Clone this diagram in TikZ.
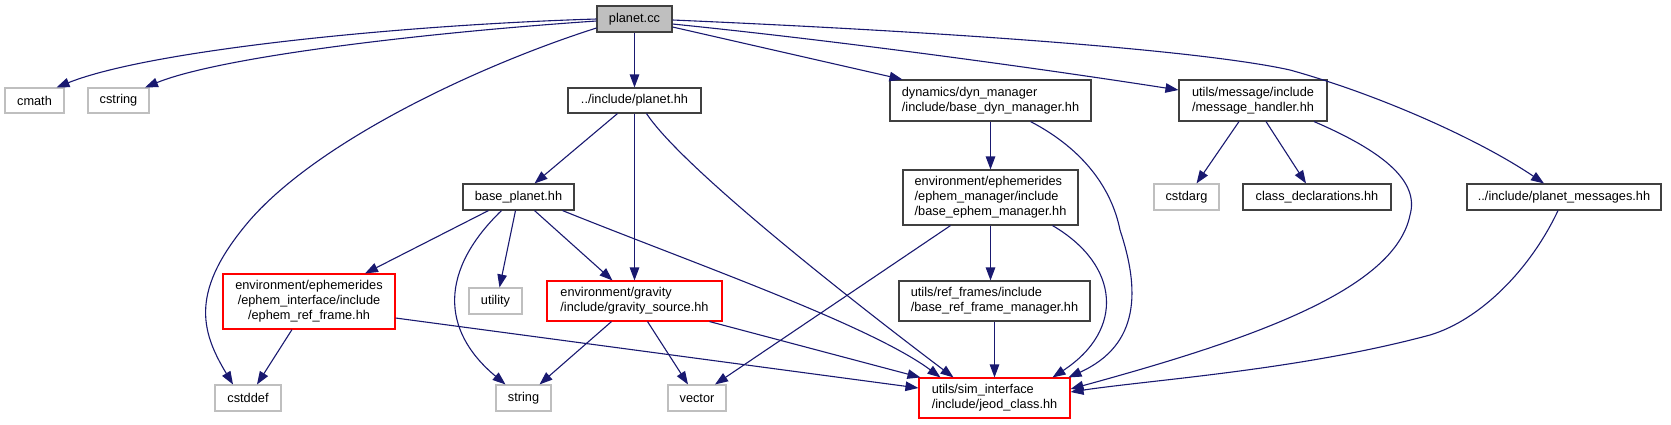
\documentclass[tikz,border=0pt]{standalone}
\usepackage{fontspec}
\setmainfont{Liberation Sans}
\usetikzlibrary{arrows.meta,calc}
\definecolor{edgeblue}{HTML}{191970}
\definecolor{greyext}{HTML}{BFBFBF}
\definecolor{greydark}{HTML}{404040}
\definecolor{rootfill}{HTML}{BFBFBF}
\begin{document}
\begin{tikzpicture}[x=1bp,y=-1bp,
  box/.style={draw=greydark, line width=1.1bp, fill=white, inner sep=0pt, text=black,
    font=\fontsize{12.8}{15}\selectfont},
  extbox/.style={box, draw=greyext},
  truncbox/.style={box, draw=red},
  rootbox/.style={box, fill=rootfill},
  dep/.style={draw=edgeblue, line width=1.1bp, -{Triangle[length=13bp,width=9.5bp]}}
]
\useasboundingbox (0,0) rectangle (1671,424);

% row 1
\node[rootbox, minimum width=75bp, minimum height=26bp] (pcc) at (634.5,19) {planet.cc};
% row 2
\node[extbox, minimum width=59bp, minimum height=25bp] (cmath) at (34.5,100.5) {cmath};
\node[extbox, minimum width=61bp, minimum height=25bp] (cstring) at (118.5,100.5) {cstring};
\node[box, minimum width=133bp, minimum height=25bp] (phh) at (634.5,100.5) {../include/planet.hh};
\node[box, minimum width=201bp, minimum height=41bp, align=left] (dyn) at (990.5,100.5) {dynamics/dyn\_manager\\/include/base\_dyn\_manager.hh};
\node[box, minimum width=148bp, minimum height=41bp, align=left] (msg) at (1253,100.5) {utils/message/include\\/message\_handler.hh};
% row 3
\node[box, minimum width=111bp, minimum height=26bp] (bp) at (518.5,197) {base\_planet.hh};
\node[box, minimum width=175bp, minimum height=55bp, align=left] (bem) at (990.5,197.5) {environment/ephemerides\\/ephem\_manager/include\\/base\_ephem\_manager.hh};
\node[extbox, minimum width=65bp, minimum height=26bp] (cstdarg) at (1186.5,197) {cstdarg};
\node[box, minimum width=148bp, minimum height=26bp] (cd) at (1317,197) {class\_declarations.hh};
\node[box, minimum width=194bp, minimum height=26bp] (pm) at (1564,197) {../include/planet\_messages.hh};
% row 4
\node[truncbox, minimum width=172bp, minimum height=55bp, align=center] (erf) at (309,301.5) {environment/ephemerides\\/ephem\_interface/include\\/ephem\_ref\_frame.hh};
\node[extbox, minimum width=53bp, minimum height=26bp] (utility) at (495.5,301) {utility};
\node[truncbox, minimum width=175bp, minimum height=40bp, align=left] (grav) at (634.5,301) {environment/gravity\\/include/gravity\_source.hh};
\node[box, minimum width=191bp, minimum height=40bp, align=left] (rfm) at (994.5,301) {utils/ref\_frames/include\\/base\_ref\_frame\_manager.hh};
% row 5
\node[extbox, minimum width=66bp, minimum height=26bp] (cstddef) at (248,398) {cstddef};
\node[extbox, minimum width=55bp, minimum height=26bp] (string) at (523.5,398) {string};
\node[extbox, minimum width=58bp, minimum height=26bp] (vector) at (697,398) {vector};
\node[truncbox, minimum width=151bp, minimum height=40bp, align=left] (jeod) at (994.5,398) {utils/sim\_interface\\/include/jeod\_class.hh};

% edges from planet.cc
\draw[dep] (pcc.west) .. controls (400,25) and (150,50) .. ($(cmath.north)+(22,0)$);
\draw[dep] ($(pcc.west)+(0,2)$) .. controls (420,33) and (220,57) .. ($(cstring.north)+(26.5,0)$);
\draw[dep] ($(pcc.west)+(0,9)$) .. controls (480,65) and (320,140) .. (250,220)
   .. controls (190,290) and (200,330) .. ($(cstddef.north)+(-15,0)$);
\draw[dep] (pcc.south) -- (phh.north);
\draw[dep] ($(pcc.east)+(0,8)$) -- ($(dyn.north west)+(13,0)$);
\draw[dep] ($(pcc.east)+(0,5)$) .. controls (850,42) and (1050,70) .. ($(msg.west)+(0,-10.5)$);
\draw[dep] ($(pcc.east)+(0,1)$) .. controls (950,32) and (1200,50) .. (1290,70)
   .. controls (1380,95) and (1480,140) .. ($(pm.north)+(-20,0)$);

% planet.hh
\draw[dep] ($(phh.south)+(-17,0)$) -- ($(bp.north)+(16,0)$);
\draw[dep] (phh.south) -- (grav.north);
\draw[dep] ($(phh.south)+(12,0)$) .. controls (685,172) and (880,322) .. ($(jeod.north)+(-41,0)$);

% base_planet.hh
\draw[dep] ($(bp.south)+(-30,0)$) -- ($(erf.north)+(56,0)$);
\draw[dep] ($(bp.south)+(-17,0)$) .. controls (440,270) and (440,330) .. ($(string.north)+(-18,0)$);
\draw[dep] ($(bp.south)+(-3,0)$) -- ($(utility.north)+(4,0)$);
\draw[dep] ($(bp.south)+(16,0)$) -- ($(grav.north)+(-22,0)$);
\draw[dep] ($(bp.south)+(44,0)$) .. controls (690,262) and (870,325) .. ($(jeod.north)+(-54,0)$);

% dyn manager
\draw[dep] (dyn.south) -- (bem.north);
\draw[dep] ($(dyn.south)+(40,0)$) .. controls (1085,150) and (1112,190) .. (1120,230)
   .. controls (1140,290) and (1140,345) .. ($(jeod.north)+(74,0)$);

% message handler
\draw[dep] ($(msg.south)+(-14,0)$) -- ($(cstdarg.north)+(10,0)$);
\draw[dep] ($(msg.south)+(13,0)$) -- ($(cd.north)+(-11,0)$);
\draw[dep] ($(msg.south)+(61,0)$) .. controls (1380,150) and (1420,180) .. (1410,215)
   .. controls (1395,290) and (1250,340) .. ($(jeod.east)+(0,-9)$);

% planet_messages
\draw[dep] ($(pm.south)+(-6,0)$) .. controls (1530,270) and (1480,320) .. (1430,335)
   .. controls (1300,370) and (1150,380) .. ($(jeod.east)+(0,-6)$);

% base_ephem_manager
\draw[dep] ($(bem.south)+(-40,0)$) -- ($(vector.north)+(18,0)$);
\draw[dep] (bem.south) -- (bem.south |- rfm.north);
\draw[dep] ($(bem.south)+(62,0)$) .. controls (1120,265) and (1125,330) .. ($(jeod.north)+(58,0)$);

% ephem_ref_frame
\draw[dep] ($(erf.south)+(-17,0)$) -- ($(cstddef.north)+(9,0)$);
\draw[dep] ($(erf.east)+(0,16.5)$) -- ($(jeod.west)+(0,-10)$);

% gravity_source
\draw[dep] ($(grav.south)+(-23,0)$) -- ($(string.north)+(16,0)$);
\draw[dep] ($(grav.south)+(13,0)$) -- ($(vector.north)+(-9,0)$);
\draw[dep] ($(grav.south)+(75,0)$) -- ($(jeod.north west)+(2,0)$);

% ref frame manager
\draw[dep] (rfm.south) -- (rfm.south |- jeod.north);
\end{tikzpicture}
\end{document}
